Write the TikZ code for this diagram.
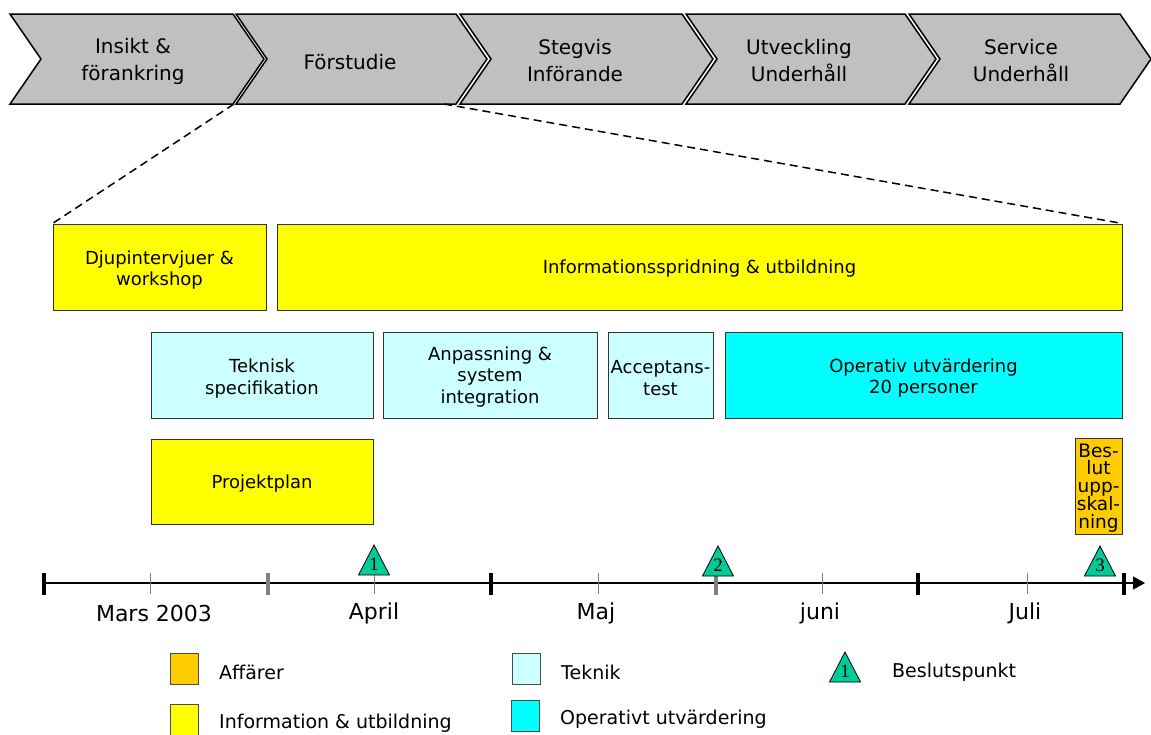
\documentclass[tikz,border=0pt]{standalone}
\usepackage{fontspec}
\setmainfont{DejaVu Sans}
\newfontfamily\numfont{Liberation Serif}
\usetikzlibrary{arrows.meta}

\definecolor{chevgray}{HTML}{C0C0C0}
\definecolor{infoyellow}{HTML}{FFFF00}
\definecolor{techcyan}{HTML}{CCFFFF}
\definecolor{opercyan}{HTML}{00FFFF}
\definecolor{bizorange}{HTML}{FFCC00}
\definecolor{msgreen}{HTML}{00CC99}

\tikzset{
  chev/.style={fill=chevgray, draw=black, line width=1.5pt, line join=miter},
  chevtext/.style={font=\fontsize{20}{27}\selectfont, align=center, inner sep=0pt},
  bar/.style={draw=black!80, line width=1pt, inner sep=0pt},
  bartext/.style={align=center, inner sep=0pt, font=\fontsize{18}{21.5}\selectfont},
  infobar/.style={bar, fill=infoyellow},
  techbar/.style={bar, fill=techcyan},
  operbar/.style={bar, fill=opercyan},
  bizbar/.style={bar, fill=bizorange},
  zoomline/.style={dashed, dash pattern=on 8pt off 5pt, line width=1.5pt},
  month/.style={font=\fontsize{22}{26}\selectfont, inner sep=0pt},
  legtext/.style={font=\fontsize{19}{23}\selectfont, anchor=west, inner sep=0pt},
  legbox/.style={draw=black!70, line width=1pt, minimum width=28pt, minimum height=31pt, inner sep=0pt},
  thintick/.style={draw=gray, line width=1pt},
  greytick/.style={draw=gray, line width=4pt},
  blacktick/.style={draw=black, line width=4pt},
  milestone/.pic={
    \draw[fill=msgreen, draw=black, line width=0.8pt, line join=miter]
      (-15.5,0) -- (0,-30) -- (15.5,0) -- cycle;
    \node[font=\numfont\fontsize{19}{20}\selectfont, inner sep=0pt] at (0,-11) {#1};
  }
}

\begin{document}
\begin{tikzpicture}[x=1pt, y=-1pt]
\useasboundingbox (0,0) rectangle (1151,734);

% phase chevrons
\draw[chev] (10,14) -- (233,14) -- (264,59) -- (233,104) -- (10,104) -- (41,59) -- cycle;
\draw[chev] (236,14) -- (456,14) -- (487,59) -- (456,104) -- (236,104) -- (267,59) -- cycle;
\draw[chev] (460,14) -- (682,14) -- (713,59) -- (682,104) -- (460,104) -- (491,59) -- cycle;
\draw[chev] (686,14) -- (905,14) -- (936,59) -- (905,104) -- (686,104) -- (717,59) -- cycle;
\draw[chev] (909,14) -- (1120,14) -- (1151,59) -- (1120,104) -- (909,104) -- (940,59) -- cycle;

\node[chevtext] (p1) at (133,61) {Insikt \&\\förankring};
\node[chevtext] (p2) at (350,62) {Förstudie};
\node[chevtext] (p3) at (575,61) {Stegvis\\Införande};
\node[chevtext] (p4) at (799,61) {Utveckling\\Underhåll};
\node[chevtext] (p5) at (1021,61) {Service\\Underhåll};

\coordinate (zoomL) at (234,104);
\coordinate (zoomR) at (444,104);

% activity bars
\node[infobar, minimum width=213pt, minimum height=86pt] (djup) at (159.5,267) {};
\node[infobar, minimum width=845pt, minimum height=86pt] (info) at (699.5,267) {};
\node[techbar, minimum width=222pt, minimum height=86pt] (tspec) at (262,375) {};
\node[techbar, minimum width=214pt, minimum height=86pt] (anp) at (490,375) {};
\node[techbar, minimum width=105pt, minimum height=86pt] (acc) at (660.5,375) {};
\node[operbar, minimum width=397pt, minimum height=86pt] (oper) at (923.5,375) {};
\node[infobar, minimum width=222pt, minimum height=85pt] (proj) at (262,481.5) {};
\node[bizbar, minimum width=47pt, minimum height=96pt] (beslut) at (1098.5,486) {};

% bar captions
\node[bartext] (djupt) at ([yshift=-3pt]djup.center) {Djupintervjuer \&\\workshop};
\node[bartext] (infot) at ([yshift=-2pt]info.center) {Informationsspridning \& utbildning};
\node[bartext] (tspect) at ([yshift=-3.5pt]tspec.center) {Teknisk\\specifikation};
\node[bartext] (anpt) at ([yshift=-2pt]anp.center) {Anpassning \&\\system\\integration};
\node[bartext] (acct) at ([yshift=-3pt]acc.center) {Acceptans-\\test};
\node[bartext] (opert) at ([yshift=-3pt]oper.center) {Operativ utvärdering\\20 personer};
\node[bartext] (projt) at ([yshift=-2pt]proj.center) {Projektplan};
\node[bartext, font=\fontsize{18.5}{17.3}\selectfont] (beslutt) at ([yshift=-2pt]beslut.center) {Bes-\\lut\\upp-\\skal-\\ning};

% zoom from the pre-study phase to its activities
\draw[zoomline] (zoomL) -- (djup.north west);
\draw[zoomline] (zoomR) -- (info.north east);

% time axis
\coordinate (axstart) at (44,583);
\coordinate (axend) at (1145,583);
\draw[line width=1.5pt, -{Triangle[length=12pt, width=13pt]}] (axstart) -- (axend);
\foreach \x in {150,374,598,822,1027} \draw[thintick] (\x,573) -- (\x,594);
\foreach \x in {268,716} \draw[greytick] (\x,573) -- (\x,595);
\foreach \x in {44,491,918,1124} \draw[blacktick] (\x,573) -- (\x,595);

\pic at (374,575) {milestone=1};
\pic at (718,576) {milestone=2};
\pic at (1100,576) {milestone=3};

\node[month] (m1) at (154,613) {Mars 2003};
\node[month] (m2) at (374,613) {April};
\node[month] (m3) at (596,613) {Maj};
\node[month] (m4) at (820,613) {juni};
\node[month] (m5) at (1025,613) {Juli};

% legend
\node[legbox, fill=bizorange] (lbiz) at (184,669) {};
\node[legtext] (lbizt) at (219,672) {Affärer};
\node[legbox, fill=infoyellow] (linfo) at (184,720) {};
\node[legtext] (linfot) at (219,723) {Information \& utbildning};
\node[legbox, fill=techcyan] (ltech) at (526,669) {};
\node[legtext] (ltecht) at (561,672) {Teknik};
\node[legbox, fill=opercyan] (loper) at (525,716) {};
\node[legtext] (lopert) at (560,719) {Operativt utvärdering};
\pic at (845,682) {milestone=1};
\node[legtext] (lmst) at (892,672) {Beslutspunkt};
\end{tikzpicture}
\end{document}
